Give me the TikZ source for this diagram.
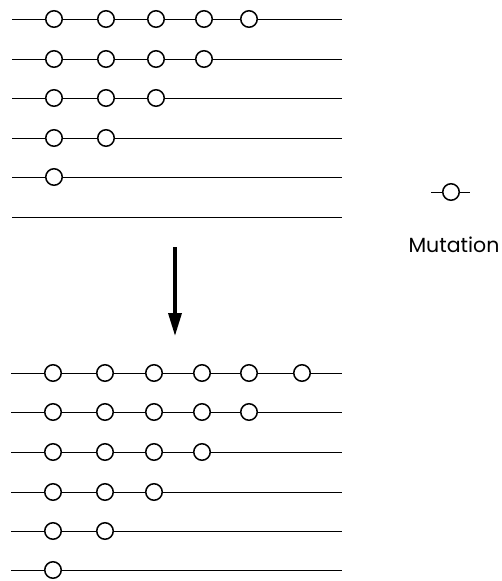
\documentclass[tikz,border=0pt]{standalone}
\usepackage{fontspec}
\setmainfont{Poppins}
\usetikzlibrary{arrows.meta}
\begin{document}
\begin{tikzpicture}[x=1pt,y=-1pt,
  mut/.style={circle,draw=black,fill=white,line width=1.5pt,minimum size=16.5pt,inner sep=0pt},
  strand/.style={draw=black,line width=1pt}]
\useasboundingbox (0,0) rectangle (501,581);
% top set
\foreach \y/\n [count=\r] in {19/5,59/4,98/3,138/2,177/1,217/0}{
  \coordinate (tl\r) at (12,\y);
  \coordinate (tr\r) at (342,\y);
  \draw[strand] (tl\r) -- (tr\r);
  \ifnum\n>0
  \foreach \x [count=\k] in {54,106,156,204,249}{
    \ifnum\k>\n\else \node[mut] (t\r-\k) at (\x,\y) {};\fi
  }
  \fi
}
% bottom set
\foreach \y/\n [count=\r] in {373/6,412/5,452/4,492/3,531/2,570/1}{
  \coordinate (bl\r) at (11,\y);
  \coordinate (br\r) at (342,\y);
  \draw[strand] (bl\r) -- (br\r);
  \foreach \x [count=\k] in {53,105,154,202,249,302}{
    \ifnum\k>\n\else \node[mut] (b\r-\k) at (\x,\y) {};\fi
  }
}
% arrow
\coordinate (as) at (175,247);
\coordinate (ae) at (175,336);
\draw[line width=3.5pt,-{Triangle[width=13pt,length=23pt]}] (as) -- (ae);
% legend
\coordinate (ll) at (431,192);
\coordinate (lr) at (470,192);
\draw[strand] (ll) -- (lr);
\node[mut] (leg) at (451,192) {};
\node[font=\fontsize{20.5}{24}\selectfont,inner sep=0pt,anchor=base] (lab) at (454,252) {Mutation};
\end{tikzpicture}
\end{document}
